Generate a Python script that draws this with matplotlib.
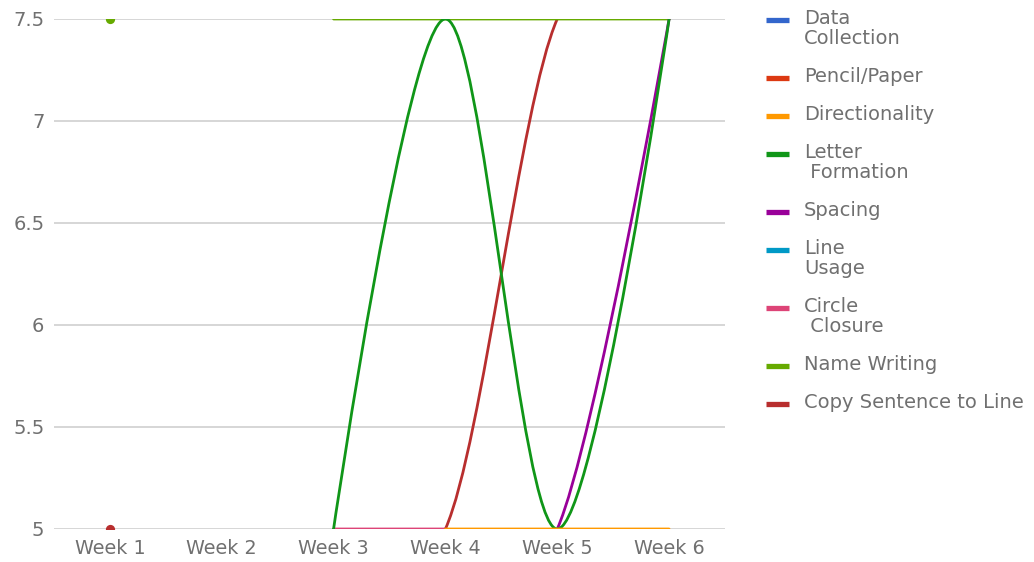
import numpy as np
import matplotlib
matplotlib.use("Agg")
import matplotlib.pyplot as plt
from matplotlib.path import Path
from matplotlib.patches import PathPatch
from matplotlib.lines import Line2D

# ---- data -------------------------------------------------------------
weeks = ["Week 1", "Week 2", "Week 3", "Week 4", "Week 5", "Week 6"]

series_names = [
    "Data\nCollection",
    "Pencil/Paper",
    "Directionality",
    "Letter\n Formation",
    "Spacing",
    "Line\nUsage",
    "Circle\n Closure",
    "Name Writing",
    "Copy Sentence to Line",
]

data_collection = [None, None, None, None, None, None]
pencil_paper = [None, None, None, None, None, None]
directionality = [None, None, None, 5, 5, 5]
letter_formation = [None, None, 5, 7.5, 5, 7.5]
spacing = [None, None, None, 5, 5, 7.5]
line_usage = [None, None, None, None, None, None]
circle_closure = [None, None, 5, 5, None, None]
name_writing = [7.5, None, 7.5, 7.5, 7.5, 7.5]
copy_sentence = [5, None, 5, 5, 7.5, 7.5]

y_ticks = [5, 5.5, 6, 6.5, 7, 7.5]
y_tick_labels = ["5", "5.5", "6", "6.5", "7", "7.5"]

colors = ["#3366cc", "#dc3912", "#ff9900", "#109618", "#990099",
          "#0099c6", "#dd4477", "#66aa00", "#b82e2e"]

all_series = [data_collection, pencil_paper, directionality, letter_formation,
              spacing, line_usage, circle_closure, name_writing, copy_sentence]

# ---- figure -----------------------------------------------------------
W, H = 1034, 562
fig = plt.figure(figsize=(W / 100, H / 100), dpi=100)
ax = fig.add_axes([54 / W, 1 - 529 / H, (725 - 54) / W, (529 - 19) / H])

TEXT = "#707070"
FONT = "DejaVu Sans"


def runs(values):
    """Split a series into runs of consecutive non-missing points."""
    out, cur = [], []
    for i, v in enumerate(values):
        if v is None:
            if cur:
                out.append(cur)
            cur = []
        else:
            cur.append((float(i), float(v)))
    if cur:
        out.append(cur)
    return out


def smooth_path(pts):
    """Catmull-Rom cubic Bezier path; end points get no tangent handle."""
    P = [np.array(p) for p in pts]
    n = len(P)
    T = [np.zeros(2)] * n
    for i in range(1, n - 1):
        T[i] = (P[i + 1] - P[i - 1]) / 6.0
    verts, codes = [P[0]], [Path.MOVETO]
    for i in range(n - 1):
        verts += [P[i] + T[i], P[i + 1] - T[i + 1], P[i + 1]]
        codes += [Path.CURVE4] * 3
    return Path(np.array(verts), codes)


n_series = len(all_series)
for k, (vals, col) in enumerate(zip(all_series, colors)):
    z = 3 + (n_series - k) * 0.1   # earlier series drawn on top
    for run in runs(vals):
        if len(run) == 1:
            dot = ax.scatter([run[0][0]], [run[0][1]], s=44, color=col,
                             linewidths=0, zorder=z)
            dot.set_clip_path(ax.patch)
        else:
            patch = PathPatch(smooth_path(run), fill=False, edgecolor=col,
                              lw=2.0, capstyle="round", joinstyle="round",
                              zorder=z)
            ax.add_patch(patch)

ax.set_xlim(-0.5, len(weeks) - 0.5)
ax.set_ylim(y_ticks[0], y_ticks[-1])
ax.set_xticks(range(len(weeks)))
ax.set_xticklabels(weeks, fontsize=13.8, color=TEXT, family=FONT)
ax.set_yticks(y_ticks)
ax.set_yticklabels(y_tick_labels, fontsize=14, color=TEXT, family=FONT)
ax.tick_params(axis="both", length=0)
ax.tick_params(axis="x", pad=7)
ax.tick_params(axis="y", pad=7)
ax.yaxis.grid(True, color="#cccccc", lw=1.1)
ax.set_axisbelow(True)
for s in ax.spines.values():
    s.set_visible(False)

# ---- legend -------------------------------------------------------------
def fx(px):
    return px / W


def fy(py):
    return 1 - py / H


y_text = 18
for name, col in zip(series_names, colors):
    lines = name.split("\n")
    fig.add_artist(Line2D([fx(766), fx(789)], [fy(y_text + 1.5)] * 2,
                          color=col, lw=3.8, solid_capstyle="butt",
                          transform=fig.transFigure))
    for j, line in enumerate(lines):
        fig.text(fx(804), fy(y_text + 20 * j), line, fontsize=14, color=TEXT,
                 family=FONT, ha="left", va="center")
    y_text += 20 * (len(lines) - 1) + 38

fig.savefig("out.png", dpi=100, facecolor="white")
